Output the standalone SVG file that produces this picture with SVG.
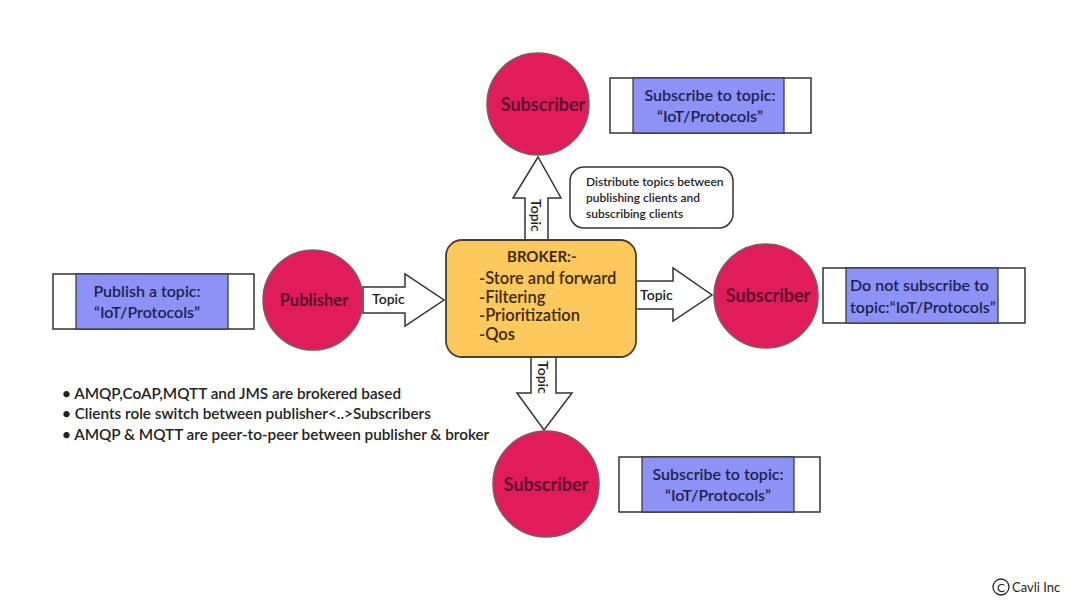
<svg xmlns="http://www.w3.org/2000/svg" width="1080" height="608" viewBox="0 0 1080 608">
<style>
.circ{fill:#e01c5a;stroke:#7a5a66;stroke-width:1.5}
.ctext{font-family:Lato,"Liberation Sans",sans-serif;font-weight:bold;fill:#5a0f2c;text-anchor:middle}
.box{fill:#fff;stroke:#333;stroke-width:1.5}
.inner{fill:#8d93f6;stroke:#333;stroke-width:1.2}
.btext{font-family:Lato,"Liberation Sans",sans-serif;font-weight:600;font-size:16px;fill:#1c2350;text-anchor:middle}
.arrow{fill:#fff;stroke:#333;stroke-width:1.5;stroke-linejoin:miter}
.atext{font-family:Lato,"Liberation Sans",sans-serif;font-weight:600;font-size:14px;fill:#222}
.note{font-family:Lato,"Liberation Sans",sans-serif;font-weight:600;font-size:15.3px;fill:#222}
</style>
<rect width="1080" height="608" fill="#fff"/>
<g id="connectors">
  <path class="arrow" d="M363,287 H405 V274 L444,300 L405,326 V313 H363 Z"/>
  <text class="atext" x="372" y="304">Topic</text>
  <path class="arrow" d="M636,281 H673 V268 L712,295 L673,321 V309 H636 Z"/>
  <text class="atext" x="640" y="300">Topic</text>
  <path class="arrow" d="M525,240 V198 H513 L538,157 L561,198 H548 V240 Z"/>
  <text class="atext" transform="translate(531,199) rotate(90)">Topic</text>
  <path class="arrow" d="M531,357 V393 H517 L544,430 L572,393 H556 V357 Z"/>
  <text class="atext" transform="translate(538,361) rotate(90)">Topic</text>
</g>
<g id="broker">
  <rect x="446" y="240" width="190" height="117" rx="16" fill="#fdc85c" stroke="#4a3d2a" stroke-width="1.8"/>
  <text x="507" y="262" font-family="Lato,'Liberation Sans',sans-serif" font-weight="bold" font-size="15" fill="#3a2a10">BROKER:-</text>
  <g font-family="Lato,'Liberation Sans',sans-serif" font-weight="600" font-size="16.5" fill="#3a2a10">
    <text x="479" y="284">-Store and forward</text>
    <text x="479" y="303">-Filtering</text>
    <text x="479" y="321">-Prioritization</text>
    <text x="479" y="340">-Qos</text>
  </g>
</g>
<g id="publisher">
  <circle class="circ" cx="313" cy="300" r="50"/>
  <text class="ctext" x="314" y="306" font-size="16.5">Publisher</text>
</g>
<g id="publish-box">
  <rect class="box" x="53" y="274" width="201" height="55"/>
  <rect class="inner" x="76" y="274" width="152" height="55"/>
  <text class="btext" x="147" y="297">Publish a topic:</text>
  <text class="btext" x="147" y="318">“IoT/Protocols”</text>
</g>
<g id="sub-top">
  <circle class="circ" cx="538" cy="104" r="51"/>
  <text class="ctext" x="543" y="111" font-size="18">Subscriber</text>
</g>
<g id="sub-top-box">
  <rect class="box" x="610" y="78" width="201" height="55"/>
  <rect class="inner" x="633" y="78" width="151" height="55"/>
  <text class="btext" x="710" y="101">Subscribe to topic:</text>
  <text class="btext" x="710" y="122">“IoT/Protocols”</text>
</g>
<g id="distribute-note">
  <rect x="570" y="167" width="163" height="61" rx="14" fill="#fff" stroke="#333" stroke-width="1.5"/>
  <g font-family="Lato,'Liberation Sans',sans-serif" font-weight="600" font-size="12" fill="#222">
    <text x="586" y="186">Distribute topics between</text>
    <text x="586" y="202">publishing clients and</text>
    <text x="586" y="218">subscribing clients</text>
  </g>
</g>
<g id="sub-right">
  <circle class="circ" cx="766" cy="296" r="52"/>
  <text class="ctext" x="768" y="302" font-size="18">Subscriber</text>
</g>
<g id="sub-right-box">
  <rect class="box" x="823" y="268" width="202" height="55"/>
  <rect class="inner" x="846" y="268" width="152" height="55"/>
  <text class="btext" x="850" y="291" style="text-anchor:start">Do not subscribe to</text>
  <text class="btext" x="850" y="313" style="text-anchor:start">topic:“IoT/Protocols”</text>
</g>
<g id="sub-bottom">
  <circle class="circ" cx="546" cy="484" r="53"/>
  <text class="ctext" x="546" y="491" font-size="18">Subscriber</text>
</g>
<g id="sub-bottom-box">
  <rect class="box" x="619" y="457" width="201" height="55"/>
  <rect class="inner" x="642" y="457" width="152" height="55"/>
  <text class="btext" x="718" y="480">Subscribe to topic:</text>
  <text class="btext" x="718" y="501">“IoT/Protocols”</text>
</g>
<g id="notes">
  <text class="note" x="62" y="399">• AMQP,CoAP,MQTT and JMS are brokered based</text>
  <text class="note" x="62" y="419">• Clients role switch between publisher&lt;..&gt;Subscribers</text>
  <text class="note" x="62" y="440">• AMQP &amp; MQTT are peer-to-peer between publisher &amp; broker</text>
</g>
<g id="copyright">
  <circle cx="1001" cy="587" r="8" fill="none" stroke="#222" stroke-width="1.3"/>
  <text x="1001" y="592" font-family="Lato,'Liberation Sans',sans-serif" font-size="12" fill="#222" text-anchor="middle">C</text>
  <text x="1012" y="592" font-family="Lato,'Liberation Sans',sans-serif" font-size="13" fill="#222">Cavli Inc</text>
</g>
</svg>
